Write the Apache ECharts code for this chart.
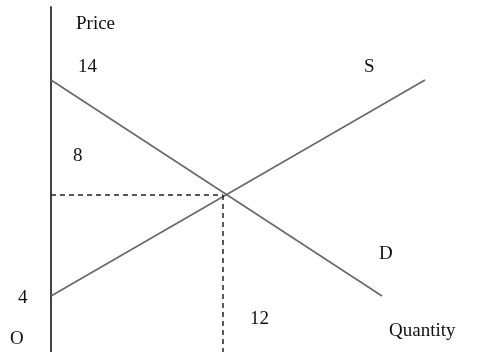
<!DOCTYPE html>
<html>
<head>
<meta charset="utf-8">
<script src="https://cdn.jsdelivr.net/npm/echarts@6/dist/echarts.min.js"></script>
<style>
  html, body { margin: 0; padding: 0; background: #fff; }
  #chart { width: 483px; height: 352px; }
</style>
</head>
<body>
<div id="chart"></div>
<script>
// 图中坐标单位（数量, 价格），按图上位置估读
var demandLine = [[0, 27.2], [33.1, 5.6]];
var supplyLine = [[0, 5.6], [37.4, 27.2]];
var eqPoint = [17.2, 15.7];
var priceGuide = [[0, eqPoint[1]], eqPoint];
var quantityGuide = [eqPoint, [eqPoint[0], 0]];

// 文字标注
var labelTexts = ['Price', '14', '8', '4', 'O', '12', 'Quantity', 'S', 'D'];
var labelPos = [[76, 15], [78, 58], [73, 147], [18, 289], [10, 330], [250, 310], [389, 322], [364, 58], [379, 245]];

var chart = echarts.init(document.getElementById('chart'), null, { renderer: 'canvas' });

var graphics = labelTexts.map(function (t, i) {
  return {
    type: 'text',
    left: labelPos[i][0],
    top: labelPos[i][1],
    silent: true,
    style: {
      text: t,
      fill: '#111',
      font: '19px "Liberation Serif", "DejaVu Serif", serif'
    }
  };
});

function lineSeries(data, color, type) {
  return {
    type: 'line',
    data: data,
    symbol: 'none',
    silent: true,
    lineStyle: {
      color: color,
      width: 1.5,
      type: type
    }
  };
}

var option = {
  animation: false,
  grid: {
    left: 51,
    top: 7,
    width: 432,
    bottom: 0
  },
  xAxis: {
    type: 'value',
    min: 0,
    max: 43.2,
    splitLine: { show: false },
    axisTick: { show: false },
    axisLabel: { show: false },
    axisLine: { show: true, lineStyle: { color: '#ececec', width: 1 } }
  },
  yAxis: {
    type: 'value',
    min: 0,
    max: 34.5,
    splitLine: { show: false },
    axisTick: { show: false },
    axisLabel: { show: false },
    axisLine: { show: true, lineStyle: { color: '#444', width: 2 } }
  },
  series: [
    lineSeries(demandLine, '#666', 'solid'),
    lineSeries(supplyLine, '#666', 'solid'),
    lineSeries(priceGuide, '#222', [5, 4]),
    lineSeries(quantityGuide, '#222', [5, 4])
  ],
  graphic: graphics
};

chart.setOption(option);
</script>
</body>
</html>
